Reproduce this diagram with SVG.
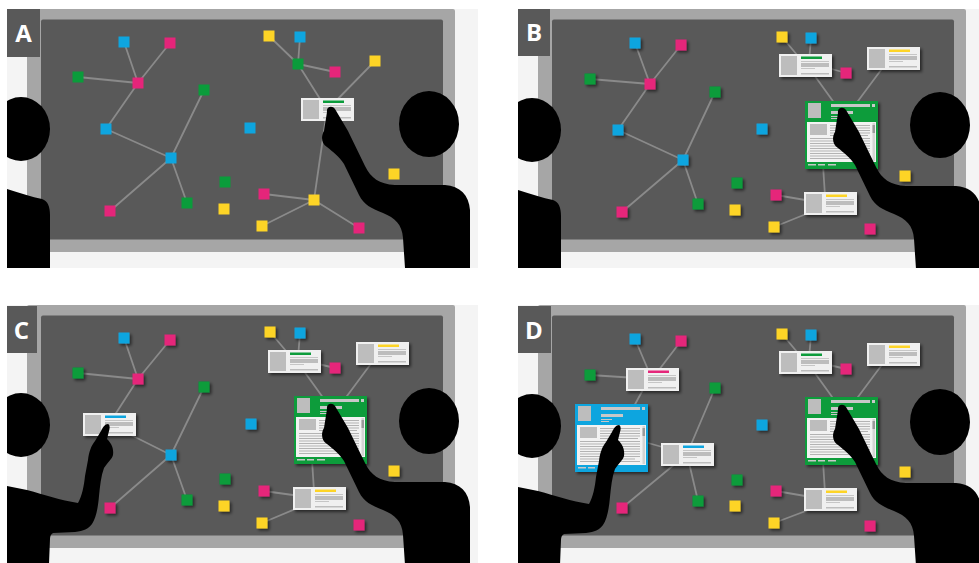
<svg xmlns="http://www.w3.org/2000/svg" xmlns:xlink="http://www.w3.org/1999/xlink" width="979" height="563" viewBox="0 0 979 563">
<style>
.sq{width:11px;height:11px}
.c{fill:#0ea5df}.m{fill:#e5257a}.g{fill:#0a9c3b}.y{fill:#fdd426}
.ln{fill:none;stroke:#8a8a8a;stroke-width:1.8}
.sh{filter:url(#sh)}
.fig{fill:#000}
.box{fill:#595959}
.lb{font-family:"Open Sans","Liberation Sans",sans-serif;font-weight:700;font-size:24px;fill:#fff;text-anchor:middle}
</style>
<defs>
  <filter id="sh" x="-20%" y="-20%" width="160%" height="160%">
    <feDropShadow dx="2" dy="2" stdDeviation="1.5" flood-color="#000" flood-opacity="0.55"/>
  </filter>
  <clipPath id="pc"><rect x="7" y="9" width="471" height="259"/></clipPath>
  <!-- wall display: backdrop, bezel, screen -->
  <g id="base">
    <rect x="7" y="9" width="471" height="259" fill="#f4f4f4"/>
    <rect x="27" y="9" width="428" height="243" rx="2" fill="#a6a6a6"/>
    <rect x="41" y="19.5" width="402" height="220" rx="2" fill="#595959"/>
  </g>
  <!-- small preview card (colour bar added per use) -->
  <g id="card">
    <rect width="53" height="23" fill="#f0f0f0"/>
    <rect x="2" y="2" width="16" height="19" fill="#bdbdbd"/>
    <rect x="22" y="7" width="28" height="1" fill="#c6c6c6"/>
    <rect x="22" y="9" width="28" height="4" fill="#bdbdbd"/>
    <rect x="22" y="14" width="14" height="1" fill="#c6c6c6"/>
    <rect x="22" y="19" width="28" height="1.5" fill="#bdbdbd"/>
  </g>
  <!-- expanded document card; frame colour comes from the fill of the use -->
  <g id="big">
    <rect width="73" height="68"/>
    <rect x="3" y="2" width="13" height="15" fill="#bdbdbd"/>
    <rect x="26" y="3" width="39" height="3" fill="#c8c8c8"/>
    <rect x="67" y="3" width="3" height="3" fill="#c8c8c8"/>
    <rect x="26" y="10" width="22" height="3" fill="#c8c8c8"/>
    <rect x="26" y="15" width="11" height="1" fill="#c8c8c8"/>
    <rect x="26" y="17" width="8" height="1" fill="#c8c8c8"/>
    <rect x="2" y="21" width="69" height="40" fill="#f2f2f2"/>
    <rect x="67.5" y="22" width="2.5" height="38" fill="#d4d4d4"/>
    <rect x="67.5" y="24" width="2.5" height="8" fill="#9a9a9a"/>
    <rect x="5" y="23" width="17" height="11" fill="#bdbdbd"/>
    <path d="M25 24.5h40M25 27h40M25 29.5h40M25 32h40M25 34.5h38M5 37.5h60M5 40h60M5 42.5h60M5 45h60M5 47.5h60M5 50h60M5 52.5h60M5 55h55M5 57.5h60" stroke="#b3b3b3" stroke-width="1" fill="none"/>
    <rect x="3" y="63" width="8" height="1.5" fill="#c8c8c8"/>
    <rect x="13" y="63" width="7" height="1.5" fill="#c8c8c8"/>
    <rect x="23" y="63" width="8" height="1.5" fill="#c8c8c8"/>
  </g>
  <!-- silhouettes -->
  <g id="rightFig" class="fig">
    <ellipse cx="429" cy="124" rx="30" ry="33"/>
    <path d="M327 112C326 107 332 105 335 109L348 131L365 166C371 178 379 184 395 185L445 185C460 186 469 195 470 210L470 268L405 268L403 238C402 224 395 218 383 213C371 208 364 205 359 195L344 164C339 156 333 152 327 147C321 143 321 136 324 131Z"/>
  </g>
  <g id="leftFig" class="fig">
    <ellipse cx="21" cy="129" rx="29" ry="32"/>
    <path d="M7 189C20 193 32 197 42 199C48 201 50 207 50 215L50 268L7 268Z"/>
  </g>
  <g id="leftFigArm" class="fig">
    <ellipse cx="21" cy="129" rx="29" ry="32"/>
    <path d="M7 190L27 194C45 199 60 204 78 207C82 200 84 190 85 180L88 164C89 156 91 150 95 145L101 135C103 131 105 128 108 128C110 129 110 132 109 135L107 143C111 147 114 152 113 159C112 163 108 166 104 172C101 180 100 190 99 200C98 212 96 222 92 228C88 233 84 235 75 236L53 237C51 238 50 240 50 243L49 268L7 268Z"/>
  </g>
</defs>

<rect width="979" height="563" fill="#fff"/>

<!-- Panel A -->
<g id="panelA" clip-path="url(#pc)">
  <use href="#base"/>
  <g id="a-links" class="ln">
    <path d="M124 42L138 83M170 43L138 83M78 77L138 83M138 83L106 129M106 129L171 158M204 90L171 158M171 158L187 203M171 158L110 211M269 36L298 64M300 37L298 64M298 64L335 72M298 64L327 110M375 61L327 110M327 110L314 200M314 200L264 194M314 200L262 226M314 200L359 228"/>
  </g>
  <g id="a-nodes">
    <g id="a-n01"><rect class="sq c" x="118.5" y="36.5"/></g>
    <g id="a-n02"><rect class="sq m" x="164.5" y="37.5"/></g>
    <g id="a-n03"><rect class="sq g" x="72.5" y="71.5"/></g>
    <g id="a-n04"><rect class="sq m" x="132.5" y="77.5"/></g>
    <g id="a-n05"><rect class="sq g" x="198.5" y="84.5"/></g>
    <g id="a-n06"><rect class="sq c" x="100.5" y="123.5"/></g>
    <g id="a-n07"><rect class="sq c" x="244.5" y="122.5"/></g>
    <g id="a-n08"><rect class="sq c" x="165.5" y="152.5"/></g>
    <g id="a-n09"><rect class="sq g" x="219.5" y="176.5"/></g>
    <g id="a-n10"><rect class="sq g" x="181.5" y="197.5"/></g>
    <g id="a-n11"><rect class="sq m" x="104.5" y="205.5"/></g>
    <g id="a-n12"><rect class="sq y" x="218.5" y="203.5"/></g>
    <g id="a-n13"><rect class="sq m" x="258.5" y="188.5"/></g>
    <g id="a-n14"><rect class="sq y" x="308.5" y="194.5"/></g>
    <g id="a-n15"><rect class="sq y" x="256.5" y="220.5"/></g>
    <g id="a-n16"><rect class="sq m" x="353.5" y="222.5"/></g>
    <g id="a-n17"><rect class="sq y" x="263.5" y="30.5"/></g>
    <g id="a-n18"><rect class="sq c" x="294.5" y="31.5"/></g>
    <g id="a-n19"><rect class="sq g" x="292.5" y="58.5"/></g>
    <g id="a-n20"><rect class="sq m" x="329.5" y="66.5"/></g>
    <g id="a-n21"><rect class="sq y" x="369.5" y="55.5"/></g>
    <g id="a-n22"><rect class="sq y" x="388.5" y="168.5"/></g>
    <g id="a-card1" transform="translate(301 98)"><use href="#card"/><rect class="g" x="22" y="2.5" width="21" height="2.5"/></g>
  </g>
  <use href="#leftFig"/>
  <use href="#rightFig"/>
  <rect class="box" x="7" y="9" width="33" height="48"/>
  <text class="lb" x="23.5" y="42">A</text>
</g>

<!-- Panel B -->
<g id="panelB" transform="translate(511 0)" clip-path="url(#pc)">
  <use href="#base"/>
  <g id="b-links" class="ln">
    <path d="M124 43L139 84M170 45L139 84M79 79L139 84M139 84L107 130M107 130L172 160M204 92L172 160M172 160L187 204M172 160L111 212M271 37L292 62M300 38L298 62M310 66L335 73M301 72L324 104M373 66L344 105M312 165L314 196M265 195L300 201M263 227L300 212"/>
  </g>
  <g id="b-nodes" class="sh">
    <g id="b-n01"><rect class="sq c" x="118.5" y="37.5"/></g>
    <g id="b-n02"><rect class="sq m" x="164.5" y="39.5"/></g>
    <g id="b-n03"><rect class="sq g" x="73.5" y="73.5"/></g>
    <g id="b-n04"><rect class="sq m" x="133.5" y="78.5"/></g>
    <g id="b-n05"><rect class="sq g" x="198.5" y="86.5"/></g>
    <g id="b-n06"><rect class="sq c" x="101.5" y="124.5"/></g>
    <g id="b-n07"><rect class="sq c" x="245.5" y="123.5"/></g>
    <g id="b-n08"><rect class="sq c" x="166.5" y="154.5"/></g>
    <g id="b-n09"><rect class="sq g" x="220.5" y="177.5"/></g>
    <g id="b-n10"><rect class="sq g" x="181.5" y="198.5"/></g>
    <g id="b-n11"><rect class="sq m" x="105.5" y="206.5"/></g>
    <g id="b-n12"><rect class="sq y" x="218.5" y="204.5"/></g>
    <g id="b-n13"><rect class="sq m" x="259.5" y="189.5"/></g>
    <g id="b-n14"><rect class="sq y" x="257.5" y="221.5"/></g>
    <g id="b-n15"><rect class="sq m" x="353.5" y="223.5"/></g>
    <g id="b-n16"><rect class="sq y" x="265.5" y="31.5"/></g>
    <g id="b-n17"><rect class="sq c" x="294.5" y="32.5"/></g>
    <g id="b-n18"><rect class="sq m" x="329.5" y="67.5"/></g>
    <g id="b-n19"><rect class="sq y" x="388.5" y="170.5"/></g>
    <g id="b-card1" transform="translate(268 54)"><use href="#card"/><rect class="g" x="22" y="2.5" width="21" height="2.5"/></g>
    <g id="b-card2" transform="translate(356 47)"><use href="#card"/><rect class="y" x="22" y="2.5" width="21" height="2.5"/></g>
    <g id="b-card3" transform="translate(293 192)"><use href="#card"/><rect class="y" x="22" y="2.5" width="21" height="2.5"/></g>
    <g id="b-doc" transform="translate(294 101)"><use href="#big" fill="#0a9c3b"/></g>
  </g>
  <use href="#leftFig" transform="translate(0 1)"/>
  <use href="#rightFig" transform="translate(0 1)"/>
  <rect class="box" x="7" y="8" width="32" height="48"/>
  <text class="lb" x="23" y="41">B</text>
</g>

<!-- Panel C -->
<g id="panelC" transform="translate(0 296)" clip-path="url(#pc)">
  <use href="#base"/>
  <g id="c-links" class="ln">
    <path d="M124 42L138 83M170 44L138 83M78 77L138 83M138 83L109 128M109 128L171 159M204 91L171 159M171 159L187 204M171 159L110 212M270 36L292 62M300 37L298 62M310 66L335 72M301 71L324 103M373 65L344 104M312 164L314 195M264 195L300 200M262 227L300 211"/>
  </g>
  <g id="c-nodes" class="sh">
    <g id="c-n01"><rect class="sq c" x="118.5" y="36.5"/></g>
    <g id="c-n02"><rect class="sq m" x="164.5" y="38.5"/></g>
    <g id="c-n03"><rect class="sq g" x="72.5" y="71.5"/></g>
    <g id="c-n04"><rect class="sq m" x="132.5" y="77.5"/></g>
    <g id="c-n05"><rect class="sq g" x="198.5" y="85.5"/></g>
    <g id="c-n06"><rect class="sq c" x="245.5" y="122.5"/></g>
    <g id="c-n07"><rect class="sq c" x="165.5" y="153.5"/></g>
    <g id="c-n08"><rect class="sq g" x="219.5" y="177.5"/></g>
    <g id="c-n09"><rect class="sq g" x="181.5" y="198.5"/></g>
    <g id="c-n10"><rect class="sq m" x="104.5" y="206.5"/></g>
    <g id="c-n11"><rect class="sq y" x="218.5" y="204.5"/></g>
    <g id="c-n12"><rect class="sq y" x="264.5" y="30.5"/></g>
    <g id="c-n13"><rect class="sq c" x="294.5" y="31.5"/></g>
    <g id="c-n14"><rect class="sq m" x="329.5" y="66.5"/></g>
    <g id="c-n15"><rect class="sq y" x="388.5" y="169.5"/></g>
    <g id="c-n16"><rect class="sq m" x="258.5" y="189.5"/></g>
    <g id="c-n17"><rect class="sq y" x="256.5" y="221.5"/></g>
    <g id="c-n18"><rect class="sq m" x="353.5" y="223.5"/></g>
    <g id="c-card0" transform="translate(83 117)"><use href="#card"/><rect class="c" x="22" y="2.5" width="21" height="2.5"/></g>
    <g id="c-card1" transform="translate(268 54)"><use href="#card"/><rect class="g" x="22" y="2.5" width="21" height="2.5"/></g>
    <g id="c-card2" transform="translate(356 46)"><use href="#card"/><rect class="y" x="22" y="2.5" width="21" height="2.5"/></g>
    <g id="c-card3" transform="translate(293 191)"><use href="#card"/><rect class="y" x="22" y="2.5" width="21" height="2.5"/></g>
    <g id="c-doc" transform="translate(294 100)"><use href="#big" fill="#0a9c3b"/></g>
  </g>
  <use href="#leftFigArm"/>
  <use href="#rightFig" transform="translate(0 1)"/>
  <rect class="box" x="6" y="10" width="31" height="47"/>
  <text class="lb" x="21.5" y="43">C</text>
</g>

<!-- Panel D -->
<g id="panelD" transform="translate(511 296)" clip-path="url(#pc)">
  <use href="#base"/>
  <g id="d-links" class="ln">
    <path d="M124 43L141 83M170 45L141 83M79 79L141 83M134 90L122 112M130 145L176 158M204 92L176 158M176 158L111 212M176 158L187 205M271 38L292 63M300 39L298 63M310 67L335 73M301 73L324 105M373 66L344 105M312 165L314 197M265 195L300 201M263 227L300 213"/>
  </g>
  <g id="d-nodes" class="sh">
    <g id="d-n01"><rect class="sq c" x="118.5" y="37.5"/></g>
    <g id="d-n02"><rect class="sq m" x="164.5" y="39.5"/></g>
    <g id="d-n03"><rect class="sq g" x="73.5" y="73.5"/></g>
    <g id="d-n04"><rect class="sq g" x="198.5" y="86.5"/></g>
    <g id="d-n05"><rect class="sq c" x="245.5" y="123.5"/></g>
    <g id="d-n06"><rect class="sq g" x="220.5" y="178.5"/></g>
    <g id="d-n07"><rect class="sq y" x="218.5" y="204.5"/></g>
    <g id="d-n08"><rect class="sq g" x="181.5" y="199.5"/></g>
    <g id="d-n09"><rect class="sq m" x="105.5" y="206.5"/></g>
    <g id="d-n10"><rect class="sq y" x="265.5" y="32.5"/></g>
    <g id="d-n11"><rect class="sq c" x="294.5" y="33.5"/></g>
    <g id="d-n12"><rect class="sq m" x="329.5" y="67.5"/></g>
    <g id="d-n13"><rect class="sq y" x="388.5" y="170.5"/></g>
    <g id="d-n14"><rect class="sq m" x="259.5" y="189.5"/></g>
    <g id="d-n15"><rect class="sq y" x="257.5" y="221.5"/></g>
    <g id="d-n16"><rect class="sq m" x="353.5" y="224.5"/></g>
    <g id="d-card0" transform="translate(115 72)"><use href="#card"/><rect class="m" x="22" y="2.5" width="21" height="2.5"/></g>
    <g id="d-card4" transform="translate(150 147)"><use href="#card"/><rect class="c" x="22" y="2.5" width="21" height="2.5"/></g>
    <g id="d-doc0" transform="translate(64 108)"><use href="#big" fill="#0ea5df"/></g>
    <g id="d-card1" transform="translate(268 55)"><use href="#card"/><rect class="g" x="22" y="2.5" width="21" height="2.5"/></g>
    <g id="d-card2" transform="translate(356 47)"><use href="#card"/><rect class="y" x="22" y="2.5" width="21" height="2.5"/></g>
    <g id="d-card3" transform="translate(293 192)"><use href="#card"/><rect class="y" x="22" y="2.5" width="21" height="2.5"/></g>
    <g id="d-doc" transform="translate(294 101)"><use href="#big" fill="#0a9c3b"/></g>
  </g>
  <use href="#leftFigArm" transform="translate(0 1)"/>
  <use href="#rightFig" transform="translate(0 2)"/>
  <rect class="box" x="6" y="10" width="34" height="47"/>
  <text class="lb" x="23" y="43">D</text>
</g>
</svg>
